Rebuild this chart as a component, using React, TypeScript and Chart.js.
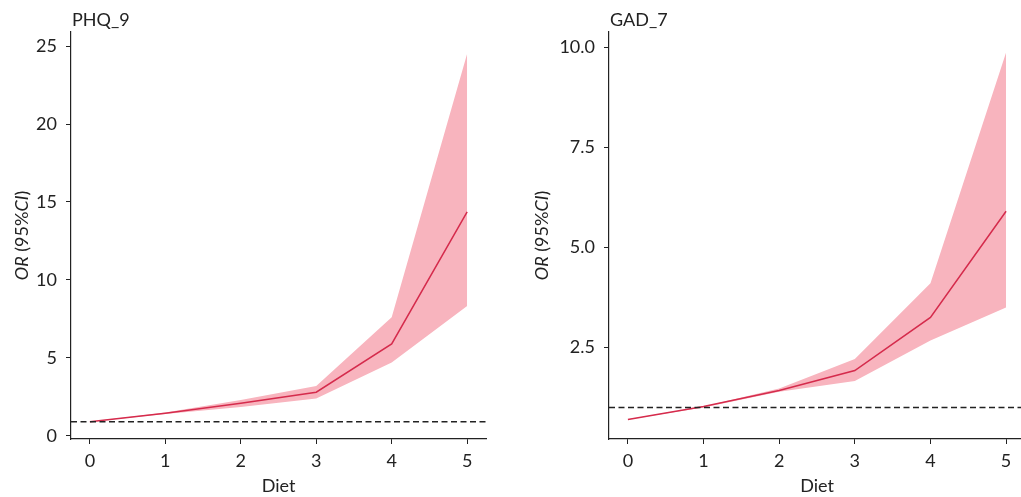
import React, { useEffect, useRef } from "react";
import { Chart, registerables } from "chart.js";

Chart.register(...registerables);

const dietLevels = [0, 1, 2, 3, 4, 5];

const phqOR = [0.9, 1.45, 2.1, 2.8, 5.9, 14.36];
const phqUpper = [0.9, 1.5, 2.3, 3.2, 7.6, 24.5];
const phqLower = [0.9, 1.4, 1.85, 2.4, 4.7, 8.33];
const phqRef = 0.9;
const phqYTicks = [0, 5, 10, 15, 20, 25];

const gadOR = [0.7, 1.02, 1.42, 1.92, 3.25, 5.9];
const gadUpper = [0.7, 1.02, 1.47, 2.21, 4.1, 9.87];
const gadLower = [0.7, 1.0, 1.39, 1.66, 2.67, 3.5];
const gadRef = 1.0;
const gadYTicks = [2.5, 5.0, 7.5, 10.0];

const FONT = "Lato, 'Noto Sans', sans-serif";
const INK = "#222222";
const LINE = "#d52b4c";
const BAND = "#f8b4be";

const panelText = {
  id: "panelText",
  afterDraw(chart: any) {
    const o = chart.options.plugins.panelText;
    if (!o) return;
    const { ctx, chartArea } = chart;
    ctx.save();
    ctx.fillStyle = INK;
    ctx.textBaseline = "alphabetic";
    // title
    ctx.font = `18px ${FONT}`;
    ctx.textAlign = "left";
    ctx.fillText(o.title, chartArea.left + 1, 26);
    // x label
    ctx.textAlign = "center";
    ctx.fillText(o.xLabel, (chartArea.left + chartArea.right) / 2, 492);
    // y label with italic parts
    const parts: [string, boolean][] = [
      ["OR", true],
      [" (95%", false],
      ["CI", true],
      [")", false],
    ];
    const fontOf = (it: boolean) => `${it ? "italic " : ""}18px ${FONT}`;
    let total = 0;
    const widths = parts.map(([t, it]) => {
      ctx.font = fontOf(it);
      const w = ctx.measureText(t).width;
      total += w;
      return w;
    });
    ctx.translate(chartArea.left - o.yLabelOffset, (chartArea.top + chartArea.bottom) / 2);
    ctx.rotate(-Math.PI / 2);
    ctx.textAlign = "left";
    let x = -total / 2;
    parts.forEach(([t, it], i) => {
      ctx.font = fontOf(it);
      ctx.fillText(t, x, 0);
      x += widths[i];
    });
    ctx.restore();
  },
};

function makeConfig(p: {
  title: string;
  or: number[];
  upper: number[];
  lower: number[];
  ref: number;
  yTicks: number[];
  yMin: number;
  yMax: number;
  xMin: number;
  xMax: number;
  yWidth: number;
  padRight: number;
  yLabelOffset: number;
  decimals: number;
}): any {
  const pts = (arr: number[]) => dietLevels.map((d, i) => ({ x: d, y: arr[i] }));
  return {
    type: "line",
    data: {
      datasets: [
        {
          data: [
            { x: p.xMin, y: p.ref },
            { x: p.xMax, y: p.ref },
          ],
          borderColor: INK,
          borderWidth: 1.5,
          borderDash: [6, 3.5],
          pointRadius: 0,
          fill: false,
        },
        {
          data: pts(p.or),
          borderColor: LINE,
          borderWidth: 1.5,
          pointRadius: 0,
          tension: 0,
          fill: false,
        },
        {
          data: pts(p.upper),
          borderWidth: 0,
          borderColor: "rgba(0,0,0,0)",
          backgroundColor: BAND,
          pointRadius: 0,
          tension: 0,
          fill: "+1",
        },
        {
          data: pts(p.lower),
          borderWidth: 0,
          borderColor: "rgba(0,0,0,0)",
          backgroundColor: BAND,
          pointRadius: 0,
          tension: 0,
          fill: false,
        },
      ],
    },
    options: {
      animation: false,
      responsive: false,
      maintainAspectRatio: false,
      events: [],
      layout: { padding: { left: 0, right: p.padRight, top: 32, bottom: 0 } },
      plugins: {
        legend: { display: false },
        tooltip: { enabled: false },
        title: { display: false },
        panelText: { title: p.title, xLabel: "Diet", yLabelOffset: p.yLabelOffset },
      },
      scales: {
        x: {
          type: "linear",
          min: p.xMin,
          max: p.xMax,
          afterBuildTicks: (s: any) => {
            s.ticks = dietLevels.map((v) => ({ value: v }));
          },
          afterFit: (s: any) => {
            s.height = 58;
          },
          ticks: {
            color: INK,
            font: { family: FONT, size: 18 },
            padding: 6,
            maxRotation: 0,
            autoSkip: false,
            callback: (v: any) => String(v),
          },
          grid: {
            display: true,
            drawOnChartArea: false,
            drawTicks: true,
            tickLength: 5,
            tickColor: INK,
          },
          border: { display: true, color: INK, width: 1.2 },
        },
        y: {
          type: "linear",
          min: p.yMin,
          max: p.yMax,
          afterBuildTicks: (s: any) => {
            s.ticks = p.yTicks.map((v) => ({ value: v }));
          },
          afterFit: (s: any) => {
            s.width = p.yWidth;
          },
          ticks: {
            color: INK,
            font: { family: FONT, size: 18 },
            padding: 9,
            autoSkip: false,
            callback: (v: any) => Number(v).toFixed(p.decimals),
          },
          grid: {
            display: true,
            drawOnChartArea: false,
            drawTicks: true,
            tickLength: 5,
            tickColor: INK,
          },
          border: { display: true, color: INK, width: 1.2 },
        },
      },
    },
    plugins: [panelText],
  };
}

export default function App() {
  const leftRef = useRef<HTMLCanvasElement>(null);
  const rightRef = useRef<HTMLCanvasElement>(null);

  useEffect(() => {
    const c1 = new Chart(
      leftRef.current!,
      makeConfig({
        title: "PHQ_9",
        or: phqOR,
        upper: phqUpper,
        lower: phqLower,
        ref: phqRef,
        yTicks: phqYTicks,
        yMin: -0.2,
        yMax: 25.9,
        xMin: -0.25,
        xMax: 5.25,
        yWidth: 71,
        padRight: 24,
        yLabelOffset: 43,
        decimals: 0,
      })
    );
    const c2 = new Chart(
      rightRef.current!,
      makeConfig({
        title: "GAD_7",
        or: gadOR,
        upper: gadUpper,
        lower: gadLower,
        ref: gadRef,
        yTicks: gadYTicks,
        yMin: 0.21,
        yMax: 10.38,
        xMin: -0.25,
        xMax: 5.25,
        yWidth: 89,
        padRight: 5,
        yLabelOffset: 61,
        decimals: 1,
      })
    );
    return () => {
      c1.destroy();
      c2.destroy();
    };
  }, []);

  return (
    <div
      style={{
        position: "absolute",
        left: 0,
        top: 0,
        width: 1021,
        height: 497,
        overflow: "hidden",
        background: "#fff",
      }}
    >
      <canvas
        ref={leftRef}
        width={510}
        height={497}
        style={{ position: "absolute", left: 0, top: 0, width: 510, height: 497 }}
      />
      <canvas
        ref={rightRef}
        width={510}
        height={497}
        style={{ position: "absolute", left: 520, top: 0, width: 510, height: 497 }}
      />
    </div>
  );
}
